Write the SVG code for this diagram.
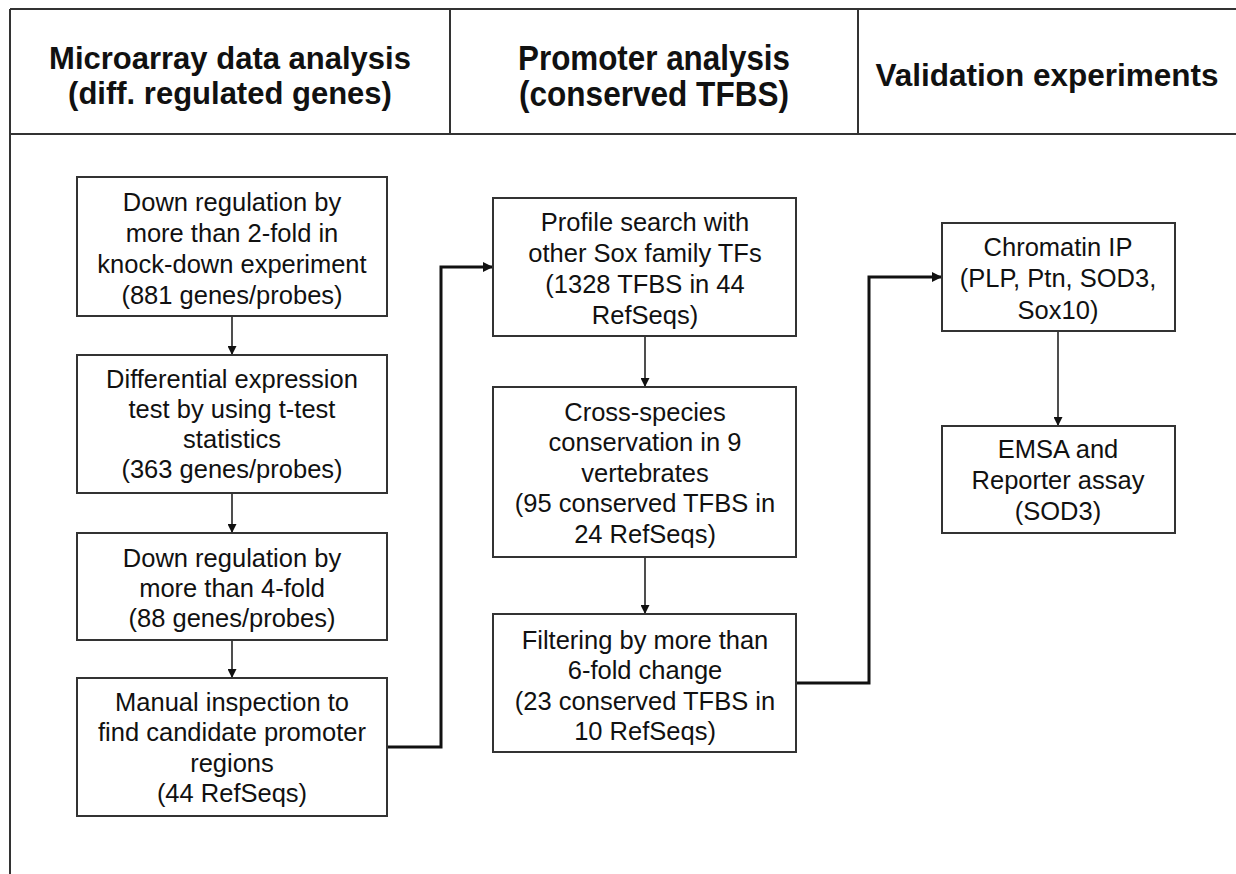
<svg xmlns="http://www.w3.org/2000/svg" width="1236" height="874" viewBox="0 0 1236 874">
<style>
.frame{stroke:#333;stroke-width:2;fill:none}
.box{fill:#fff;stroke:#333;stroke-width:2}
.t{font-family:"Liberation Sans",Arial,sans-serif;font-size:25.5px;fill:#111;text-anchor:middle}
.h{font-family:"Liberation Sans",Arial,sans-serif;font-size:31px;font-weight:bold;fill:#111;text-anchor:middle}
.hn{font-family:"Liberation Sans",Arial,sans-serif;font-size:35px;font-weight:bold;fill:#111;text-anchor:middle}
.hv{font-family:"Liberation Sans",Arial,sans-serif;font-size:31.5px;font-weight:bold;fill:#111;text-anchor:middle}
.thin{stroke:#222;stroke-width:1.6;fill:none}
.thick{stroke:#111;stroke-width:3;fill:none}
</style>
<defs>
<marker id="ah" viewBox="0 0 10 10" refX="10" refY="5" markerWidth="10" markerHeight="9" markerUnits="userSpaceOnUse" orient="auto">
<path d="M0,0 L10,5 L0,10 z" fill="#111"/>
</marker>
<marker id="ah2" viewBox="0 0 10 10" refX="10" refY="5" markerWidth="12" markerHeight="10" markerUnits="userSpaceOnUse" orient="auto">
<path d="M0,0 L10,5 L0,10 z" fill="#111"/>
</marker>
</defs>
<rect x="0" y="0" width="1236" height="874" fill="#fff"/>
<g id="frame">
<path class="frame" d="M10,9 H1236 M10,134 H1236 M10,9 V874 M450,9 V134 M858,9 V134"/>
<text class="h" x="230" y="69">Microarray data analysis</text>
<text class="h" x="230" y="104">(diff. regulated genes)</text>
<text class="hn" x="654" y="70" textLength="272" lengthAdjust="spacingAndGlyphs">Promoter analysis</text>
<text class="hn" x="654" y="106" textLength="270" lengthAdjust="spacingAndGlyphs">(conserved TFBS)</text>
<text class="hv" x="1047" y="86">Validation experiments</text>
</g>
<g id="connectors">
<line class="thin" x1="232" y1="316" x2="232" y2="355" marker-end="url(#ah)"/>
<line class="thin" x1="232" y1="493" x2="232" y2="533" marker-end="url(#ah)"/>
<line class="thin" x1="232" y1="640" x2="232" y2="678" marker-end="url(#ah)"/>
<line class="thin" x1="645" y1="336" x2="645" y2="387" marker-end="url(#ah)"/>
<line class="thin" x1="645" y1="557" x2="645" y2="614" marker-end="url(#ah)"/>
<line class="thin" x1="1058" y1="331" x2="1058" y2="426" marker-end="url(#ah)"/>
<path class="thick" d="M387,747 H441 V267 H493" marker-end="url(#ah2)"/>
<path class="thick" d="M796,683 H869 V277 H942" marker-end="url(#ah2)"/>
</g>
<g id="a1">
<rect class="box" x="77" y="177" width="310" height="139"/>
<text class="t" x="232" y="211">Down regulation by</text>
<text class="t" x="232" y="242">more than 2-fold in</text>
<text class="t" x="232" y="273">knock-down experiment</text>
<text class="t" x="232" y="304">(881 genes/probes)</text>
</g>
<g id="a2">
<rect class="box" x="77" y="355" width="310" height="138"/>
<text class="t" x="232" y="388">Differential expression</text>
<text class="t" x="232" y="418">test by using t-test</text>
<text class="t" x="232" y="448">statistics</text>
<text class="t" x="232" y="478">(363 genes/probes)</text>
</g>
<g id="a3">
<rect class="box" x="77" y="533" width="310" height="107"/>
<text class="t" x="232" y="567">Down regulation by</text>
<text class="t" x="232" y="597">more than 4-fold</text>
<text class="t" x="232" y="627">(88 genes/probes)</text>
</g>
<g id="a4">
<rect class="box" x="77" y="678" width="310" height="138"/>
<text class="t" x="232" y="711">Manual inspection to</text>
<text class="t" x="232" y="741">find candidate promoter</text>
<text class="t" x="232" y="772">regions</text>
<text class="t" x="232" y="802">(44 RefSeqs)</text>
</g>
<g id="b1">
<rect class="box" x="493" y="198" width="303" height="138"/>
<text class="t" x="645" y="231">Profile search with</text>
<text class="t" x="645" y="262">other Sox family TFs</text>
<text class="t" x="645" y="293">(1328 TFBS in 44</text>
<text class="t" x="645" y="324">RefSeqs)</text>
</g>
<g id="b2">
<rect class="box" x="493" y="387" width="303" height="170"/>
<text class="t" x="645" y="421">Cross-species</text>
<text class="t" x="645" y="451">conservation in 9</text>
<text class="t" x="645" y="482">vertebrates</text>
<text class="t" x="645" y="512">(95 conserved TFBS in</text>
<text class="t" x="645" y="543">24 RefSeqs)</text>
</g>
<g id="b3">
<rect class="box" x="493" y="614" width="303" height="138"/>
<text class="t" x="645" y="649">Filtering by more than</text>
<text class="t" x="645" y="679">6-fold change</text>
<text class="t" x="645" y="710">(23 conserved TFBS in</text>
<text class="t" x="645" y="740">10 RefSeqs)</text>
</g>
<g id="c1">
<rect class="box" x="942" y="223" width="233" height="108"/>
<text class="t" x="1058" y="256">Chromatin IP</text>
<text class="t" x="1058" y="287">(PLP, Ptn, SOD3,</text>
<text class="t" x="1058" y="319">Sox10)</text>
</g>
<g id="c2">
<rect class="box" x="942" y="426" width="233" height="107"/>
<text class="t" x="1058" y="458">EMSA and</text>
<text class="t" x="1058" y="489">Reporter assay</text>
<text class="t" x="1058" y="520">(SOD3)</text>
</g>
</svg>
